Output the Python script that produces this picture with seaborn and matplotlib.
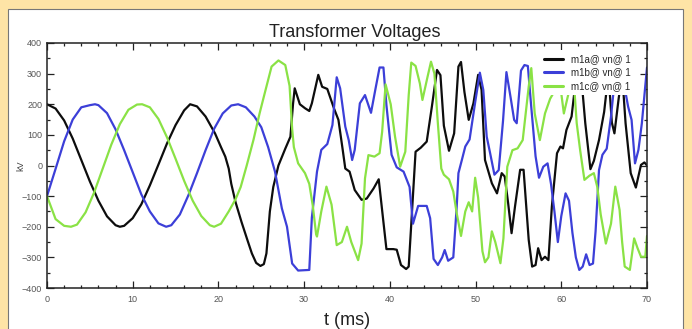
import pandas as pd
import numpy as np
import seaborn as sns
import matplotlib.pyplot as plt
from matplotlib.patches import Rectangle
from matplotlib.ticker import MultipleLocator

# values (t in ms, voltage in kV)
t_a = [0, 1, 2, 3, 4, 5, 6, 7, 8, 8.5, 9, 10, 11, 12, 13, 14, 15, 16, 16.7, 17.5,
       18.5, 19.6, 20.3, 20.8, 21.2, 21.5, 22.0, 22.7, 23.4, 23.9, 24.4, 24.9, 25.3, 25.6, 26.0,
       26.4, 27.0, 27.8, 28.4, 28.7, 28.9, 29.5, 30.1, 30.6, 30.9, 31.65, 32.1, 32.7, 33.5, 34.0, 34.5,
       34.8, 35.3, 35.9, 36.7, 37.3, 38.1, 38.7, 39.2, 39.6, 40.4, 40.8, 41.3, 41.9, 42.2, 42.5,
       43.0, 43.6, 44.3, 44.9, 45.5, 45.9, 46.3, 46.9, 47.5, 48.0, 48.3, 48.7, 49.2, 49.75, 50.3,
       50.7, 51.1, 51.9, 52.5, 53.05, 53.4, 53.8, 54.2, 54.6, 55.2, 55.6, 56.2, 56.6, 57.0, 57.3,
       57.7, 58.1, 58.5, 58.9, 59.5, 59.9, 60.2, 60.6, 61.2, 61.6, 61.9, 62.3, 62.8, 63.4, 63.8,
       64.4, 65.0, 65.5, 65.9, 66.2, 66.7, 67.1, 67.5, 68.1, 68.7, 69.3, 69.7, 70.0]
v_a = [200, 186, 147, 88, 18, -52, -115, -166, -195, -200, -197, -172, -127, -65, 3, 72, 132, 180, 200, 193,
       160, 105, 60, 29, -10, -60, -120, -185, -245, -287, -318, -328, -322, -287, -150,
       -70, 0, 55, 94, 200, 252, 200, 187, 178, 203, 296, 257, 250, 185, 149, 51,
       -10, -20, -80, -112, -108, -75, -45, -172, -273, -273, -275, -325, -338, -330, -190,
       45, 58, 78, 192, 312, 295, 130, 48, 105, 323, 338, 240, 149, 203, 296,
       247, 18, -58, -91, -25, -36, -123, -221, -134, -14, -14, -243, -330, -325, -270,
       -309, -298, -309, -134, 40, 62, 56, 116, 160, 257, 330, 300, 138, -12, 15,
       83, 175, 300, 140, 105, 220, 300, 138, -25, -72, 2, 10, 0]

t_b = [0, 1, 2, 3, 4, 5, 5.6, 6, 7, 8, 9, 10, 11, 12, 13, 13.9, 14.5, 15.5, 16.5, 17.5,
       18.5, 19.5, 20.5, 21.5, 22.3, 23.2, 24.2, 25.0, 25.8, 26.6, 27.4, 28.0, 28.6, 29.3, 30.6,
       30.9, 31.5, 32.0, 32.7, 33.3, 33.8, 34.2, 34.8, 35.2, 35.6, 35.9, 36.5, 37.1, 37.8, 38.3,
       38.8, 39.25, 39.6, 40.2, 40.8, 41.6, 42.3, 42.7, 43.3, 44.3, 44.7, 45.1, 45.6, 46.1, 46.4,
       46.8, 47.4, 47.8, 48.0, 48.4, 48.8, 49.3, 50.0, 50.5, 50.9, 51.3, 51.7, 52.2, 52.7, 53.2,
       53.6, 54.1, 54.5, 54.8, 55.3, 55.7, 56.1, 56.5, 57.0, 57.4, 57.9, 58.4, 58.8, 59.2, 59.6,
       60.0, 60.5, 60.9, 61.3, 61.7, 62.1, 62.5, 62.9, 63.3, 63.7, 64.0, 64.4, 64.8, 65.3, 65.8,
       66.2, 66.6, 66.9, 67.3, 67.8, 68.2, 68.6, 69.0, 69.4, 69.8, 70.0]
v_b = [-100, -11, 79, 150, 190, 197, 200, 197, 171, 118, 50, -22, -94, -150, -189, -200, -195, -160, -97, -25,
       50, 120, 170, 196, 200, 190, 160, 125, 60, -20, -140, -200, -320, -343, -341,
       -170, -20, 51, 70, 132, 288, 252, 127, 83, 18, 51, 203, 230, 172, 247,
       320, 320, 197, 35, -6, -20, -70, -190, -132, -132, -172, -305, -325, -300, -276,
       -311, -300, -134, -25, 18, 62, 85, 215, 303, 247, 94, 40, -30, -15, 145,
       305, 220, 149, 138, 310, 328, 325, 190, 30, -40, -4, 7, -60, -150, -250,
       -165, -91, -115, -220, -300, -341, -330, -290, -325, -320, -215, -15, 35, 55, 160,
       270, 320, 345, 268, 192, 149, 7, 51, 138, 260, 320]

t_c = [0, 1, 2, 2.8, 3.5, 4.5, 5.5, 6.5, 7.5, 8.5, 9.5, 10.5, 11.1, 12, 13, 14, 15, 16, 17, 18,
       19, 19.5, 20.3, 21.2, 22.0, 22.6, 23.3, 24.1, 24.8, 25.3, 26.2, 27.0, 27.8, 28.3, 28.6,
       28.8, 29.3, 30.1, 30.6, 31.0, 31.4, 31.5, 32.0, 32.6, 33.2, 33.8, 34.4, 35.0, 35.5, 36.3,
       36.7, 37.1, 37.5, 38.2, 38.8, 39.1, 39.5, 40.1, 40.6, 41.2, 41.8, 42.2, 42.5, 43.0, 43.5,
       43.8, 44.4, 44.8, 45.2, 45.6, 46.0, 46.3, 46.9, 47.4, 47.8, 48.3, 48.8, 49.2, 49.6, 49.95,
       50.3, 50.8, 51.1, 51.5, 51.9, 52.3, 52.9, 53.25, 53.7, 54.3, 54.9, 55.5, 56.2, 56.5, 56.9,
       57.5, 58.1, 58.7, 59.3, 59.9, 60.3, 60.8, 61.4, 61.8, 62.2, 62.7, 63.3, 63.8, 64.2, 64.6,
       65.2, 65.8, 66.3, 66.8, 67.1, 67.4, 68.0, 68.5, 68.9, 69.3, 69.8, 70.0]
v_c = [-100, -175, -197, -200, -193, -153, -88, -10, 68, 135, 182, 199, 200, 190, 152, 92, 22, -50, -115, -165,
       -195, -200, -190, -150, -110, -70, 0, 85, 170, 225, 323, 343, 328, 260, 120,
       60, 7, -25, -60, -130, -225, -232, -150, -69, -128, -260, -250, -200, -250, -309,
       -255, -42, 34, 29, 40, 110, 265, 200, 95, -4, 45, 230, 336, 325, 268,
       214, 290, 339, 300, 138, -10, -30, -45, -85, -156, -230, -150, -120, -150, -40,
       -105, -280, -316, -300, -215, -250, -319, -238, -4, 50, 56, 83, 258, 318, 170,
       83, 170, 218, 247, 257, 170, 230, 300, 138, 50, -47, -33, -25, -70, -160,
       -255, -190, -69, -145, -250, -330, -341, -238, -270, -298, -298, -230]

labels = ["m1a@ vn@ 1", "m1b@ vn@ 1", "m1c@ vn@ 1"]
colors = ["#0d0d0d", "#3c3fd8", "#8ae245"]

df = pd.concat([
    pd.DataFrame({"t": t_a, "kV": v_a, "series": labels[0]}),
    pd.DataFrame({"t": t_b, "kV": v_b, "series": labels[1]}),
    pd.DataFrame({"t": t_c, "kV": v_c, "series": labels[2]}),
])

sns.set_style("ticks")
plt.rcParams['font.family'] = ['Liberation Sans', 'DejaVu Sans']

fig = plt.figure(figsize=(6.92, 3.29), dpi=100)
fig.patch.set_facecolor("#fee4a6")
# white inner panel (runs off the bottom edge), kept behind the axes
panel = Rectangle((8 / 692, -0.05), 675 / 692, 1.05 - 9 / 329, transform=fig.transFigure,
                  facecolor="white", edgecolor="#777777", linewidth=0.8, zorder=-10)
fig.add_artist(panel)

ax = fig.add_axes([47 / 692, 1 - 288 / 329, 600 / 692, 245 / 329])
ax.set_zorder(1)
sns.lineplot(data=df, x="t", y="kV", hue="series", palette=dict(zip(labels, colors)),
             estimator=None, sort=False, linewidth=1.6, ax=ax)

ax.set_xlim(0, 70)
ax.set_ylim(-400, 400)
ax.xaxis.set_major_locator(MultipleLocator(10))
ax.xaxis.set_minor_locator(MultipleLocator(2))
ax.yaxis.set_major_locator(MultipleLocator(100))
ax.yaxis.set_minor_locator(MultipleLocator(50))
ax.tick_params(which="both", direction="in", top=True, right=True, labelsize=6.5,
               labelcolor="#555555", width=0.9, color="#222222")
ax.tick_params(which="major", length=5)
ax.tick_params(which="minor", length=2.5)
ax.tick_params(axis="x", pad=5)
for s in ax.spines.values():
    s.set_linewidth(1.1)
    s.set_color("#222222")

ax.set_title("Transformer Voltages", fontsize=13, color="#222222", pad=4, x=0.513)
ax.set_xlabel("t (ms)", fontsize=13, color="#222222", labelpad=6)
ax.set_ylabel("kV", fontsize=6.5, color="#444444")
ax.yaxis.set_label_coords(-22 / 600, 0.5)

leg = ax.legend(loc="upper right", fontsize=7, frameon=True, facecolor="white", edgecolor="none",
                framealpha=1, handlelength=1.95, handletextpad=0.9, labelspacing=0.35,
                borderpad=0.4, bbox_to_anchor=(0.988, 0.99))
for line in leg.get_lines():
    line.set_linewidth(2.2)

fig.savefig("out.png", dpi=100, facecolor=fig.get_facecolor())
